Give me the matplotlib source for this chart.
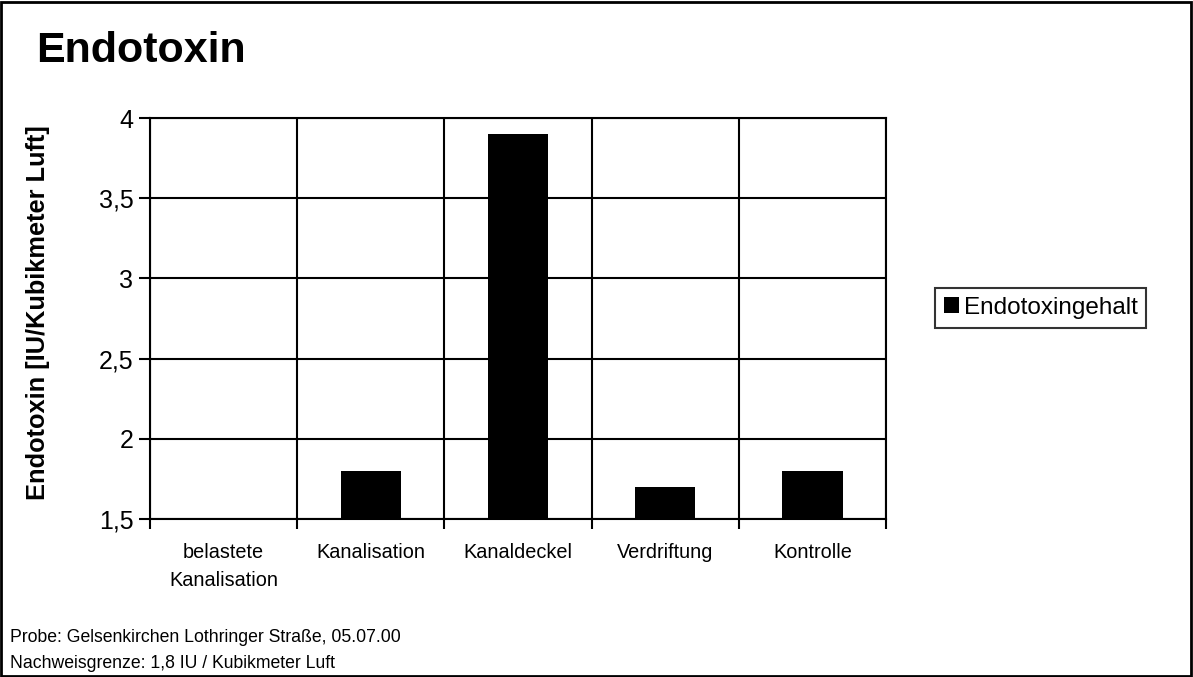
import matplotlib
matplotlib.use("Agg")
import matplotlib.pyplot as plt
from matplotlib.patches import Rectangle
import numpy as np

plt.rcParams['font.family'] = ['Liberation Sans', 'DejaVu Sans']

categories = ["belastete\nKanalisation", "Kanalisation", "Kanaldeckel", "Verdriftung", "Kontrolle"]
values = [1.5, 1.8, 3.9, 1.7, 1.8]
yticks = [1.5, 2, 2.5, 3, 3.5, 4]
ytick_labels = ["1,5", "2", "2,5", "3", "3,5", "4"]
series_name = "Endotoxingehalt"

W, H = 1193, 677
fig = plt.figure(figsize=(W/100, H/100), dpi=100)
ax = fig.add_axes([150/W, 1-519/H, (886-150)/W, (519-118)/H])

x = np.arange(len(categories))
base = 1.5
ax.bar(x, [v - base for v in values], bottom=base, width=0.41, color='black', label=series_name, zorder=3)

ax.set_xlim(-0.5, len(categories) - 0.5)
ax.set_ylim(1.5, 4)
ax.set_yticks(yticks)
ax.set_yticklabels(ytick_labels, fontsize=18)
ax.set_xticks(x)
ax.set_xticklabels(categories, fontsize=14.3, linespacing=1.6)
ax.tick_params(axis='x', which='major', length=0, pad=17)
ax.set_xticks(np.arange(-0.5, len(categories)), minor=True)
ax.tick_params(axis='x', which='minor', length=7, width=1.5, direction='out')
ax.tick_params(axis='y', which='major', length=8, width=1.5, direction='out', pad=4)
ax.grid(True, axis='y', which='major', color='black', linewidth=1.5, zorder=1)
ax.grid(True, axis='x', which='minor', color='black', linewidth=1.5, zorder=1)
for s in ax.spines.values():
    s.set_linewidth(1.5)

ylab = ax.set_ylabel("Endotoxin [IU/Kubikmeter Luft]", fontsize=18.3, fontweight='bold')
ylab.set_rotation_mode('anchor')
ylab.set_va('baseline')
ax.yaxis.set_label_coords((45 - 150) / 736, (519 - 313) / 401)

fig.text(36/W, 1-62/H, "Endotoxin", fontsize=31, fontweight='bold', va='baseline', ha='left')
fig.text(10/W, 1-638/H, "Probe: Gelsenkirchen Lothringer Straße, 05.07.00", fontsize=12.7, va='center', ha='left')
fig.text(10/W, 1-664/H, "Nachweisgrenze: 1,8 IU / Kubikmeter Luft", fontsize=12.7, va='center', ha='left')

leg = fig.legend(loc='upper left', bbox_to_anchor=(935/W, 1-288/H), fontsize=17.5,
                 frameon=True, fancybox=False, edgecolor='black', handlelength=0.62,
                 handleheight=0.62, handletextpad=0.2, borderpad=0.36, borderaxespad=0)
leg.get_frame().set_linewidth(1.5)

fig.patches.append(Rectangle((1/W, 1/H), (W-3)/W, (H-3)/H, transform=fig.transFigure,
                             fill=False, edgecolor='black', linewidth=2))

fig.savefig("out.png", dpi=100)
